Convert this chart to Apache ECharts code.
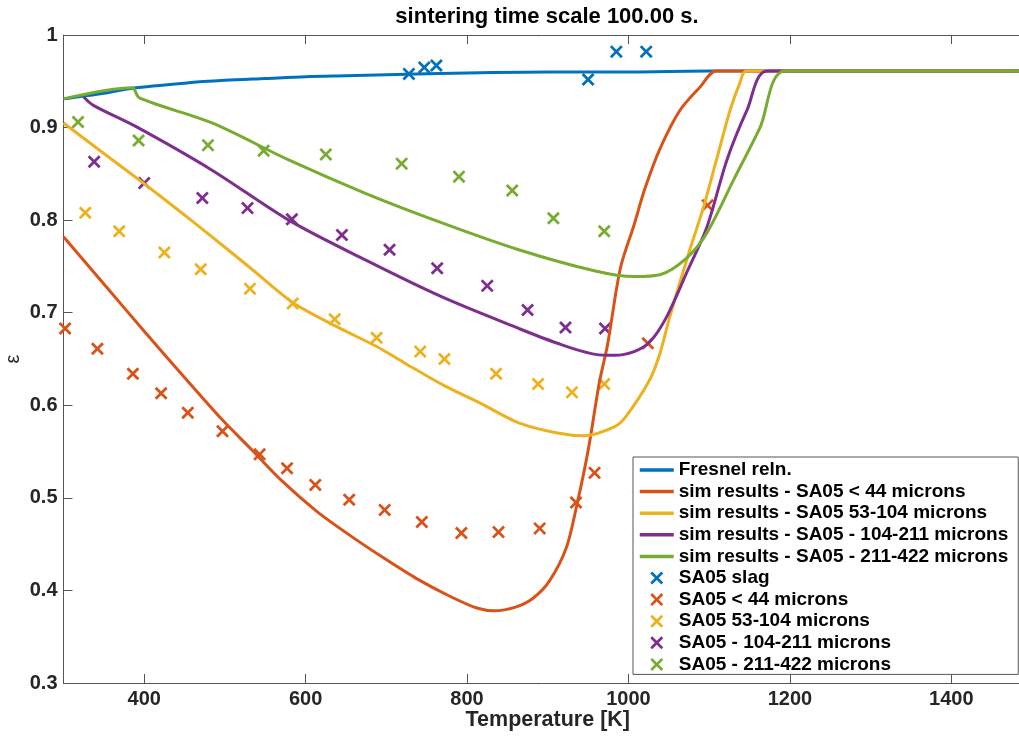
<!DOCTYPE html>
<html>
<head>
<meta charset="utf-8">
<title>sintering time scale</title>
<script src="https://cdn.jsdelivr.net/npm/echarts@6/dist/echarts.min.js"></script>
<style>
  html, body { margin: 0; padding: 0; background: #fff; }
  #main { width: 1019px; height: 738px; }
</style>
</head>
<body>
<div id="main"></div>
<script>
// temperature [K], emissivity
const fresnel = [[300,0.931],[350,0.937],[385,0.9425],[450,0.948],[500,0.951],[550,0.953],[600,0.955],[650,0.956],[700,0.957],[800,0.959],[900,0.960],[1000,0.960],[1100,0.961],[1500,0.961]];
const simLt44 = [[300,0.782],[350,0.731],[400,0.680],[450,0.630],[497,0.584],[532,0.553],[571,0.518],[613,0.486],[654,0.460],[695,0.436],[737,0.413],[778,0.394],[812,0.381],[834,0.378],[860,0.382],[881,0.391],[902,0.410],[923,0.446],[936,0.492],[950,0.551],[964,0.625],[974,0.665],[990,0.748],[1007,0.795],[1020,0.833],[1039,0.877],[1064,0.919],[1089,0.944],[1109,0.961],[1500,0.961]];
const sim53 = [[300,0.905],[350,0.872],[399,0.840],[442,0.811],[484,0.782],[532,0.748],[584,0.711],[636,0.686],[689,0.663],[722,0.646],[770,0.622],[817,0.602],[864,0.581],[912,0.570],[945,0.567],[983,0.577],[997,0.588],[1026,0.627],[1039,0.656],[1051,0.695],[1076,0.768],[1093,0.814],[1109,0.865],[1126,0.919],[1138,0.948],[1146,0.961],[1500,0.961]];
const sim104 = [[325,0.933],[337,0.924],[390,0.901],[484,0.854],[579,0.800],[674,0.757],[769,0.717],[864,0.683],[912,0.667],[959,0.655],[983,0.654],[1007,0.658],[1026,0.668],[1047,0.695],[1072,0.743],[1097,0.792],[1122,0.865],[1147,0.919],[1172,0.961],[1500,0.961]];
const sim211 = [[300,0.931],[385,0.943],[394,0.932],[484,0.905],[579,0.865],[674,0.829],[769,0.797],[864,0.768],[959,0.745],[1007,0.739],[1039,0.741],[1072,0.759],[1097,0.786],[1130,0.843],[1163,0.900],[1194,0.961],[1500,0.961]];

const expSlag = [[728,0.958],[747,0.965],[762,0.967],[950,0.952],[985,0.982],[1022,0.982]];
const expLt44 = [[302,0.683],[342,0.661],[386,0.634],[421,0.613],[454,0.592],[497,0.572],[543,0.547],[577,0.532],[612,0.514],[654,0.498],[698,0.487],[744,0.474],[793,0.462],[839,0.463],[890,0.467],[935,0.495],[958,0.527],[1024,0.667],[1098,0.816]];
const exp53 = [[327,0.808],[369,0.788],[425,0.765],[470,0.747],[531,0.726],[584,0.710],[636,0.693],[688,0.673],[742,0.658],[772,0.650],[836,0.634],[888,0.623],[930,0.614],[970,0.623]];
const exp104 = [[338,0.863],[400,0.840],[472,0.824],[528,0.813],[583,0.801],[645,0.784],[704,0.768],[763,0.748],[825,0.729],[875,0.703],[922,0.684],[971,0.683]];
const exp211 = [[318,0.906],[393,0.886],[479,0.881],[548,0.875],[625,0.871],[719,0.861],[790,0.847],[856,0.832],[907,0.802],[970,0.788]];

const xTicks = [400, 600, 800, 1000, 1200, 1400];

const lineNames = ['Fresnel reln.', 'sim results - SA05 < 44 microns', 'sim results - SA05 53-104 microns',
  'sim results - SA05 - 104-211 microns', 'sim results - SA05 - 211-422 microns'];
const dotNames = ['SA05 slag', 'SA05 < 44 microns', 'SA05 53-104 microns', 'SA05 - 104-211 microns', 'SA05 - 211-422 microns'];
const colors = ['#0072BD', '#D95319', '#EDB120', '#7E2F8E', '#77AC30'];

const FONT = '"Liberation Sans", Helvetica, Arial, sans-serif';
const CROSS = 'path://M0,1.5L1.5,0L5,3.5L8.5,0L10,1.5L6.5,5L10,8.5L8.5,10L5,6.5L1.5,10L0,8.5L3.5,5Z';
const AXIS_COLOR = '#555';

const lineSets = [fresnel, simLt44, sim53, sim104, sim211];
const dotSets = [expSlag, expLt44, exp53, exp104, exp211];

const series = [];
lineSets.forEach((d, i) => {
  series.push({
    name: lineNames[i], type: 'line', data: d,
    symbol: 'none', smooth: 0.3,
    lineStyle: { width: 3, color: colors[i] }, itemStyle: { color: colors[i] }
  });
});
dotSets.forEach((d, i) => {
  series.push({
    name: dotNames[i], type: 'scatter', data: d,
    symbol: CROSS, symbolSize: 13, itemStyle: { color: colors[i], opacity: 1 }
  });
});

// legend: plain line for the simulated curves, cross for the measurements
const legendData = lineNames.map(n => ({ name: n, itemStyle: { opacity: 0 }, lineStyle: { width: 3.5 } }))
  .concat(dotNames.map(n => ({ name: n })));

const chart = echarts.init(document.getElementById('main'));
chart.setOption({
  animation: false,
  backgroundColor: '#fff',
  color: colors,
  title: {
    text: 'sintering time scale 100.00 s.',
    left: 542, top: 1, textAlign: 'center',
    textStyle: { fontFamily: FONT, fontSize: 22, fontWeight: 'bold', color: '#000' }
  },
  grid: { left: 63.5, top: 35, right: -13, bottom: 55, outerBoundsMode: 'none', containLabel: false },
  xAxis: [{
    type: 'value', min: 300, max: 1500,
    name: 'Temperature [K]', nameLocation: 'middle', nameGap: 26, nameMoveOverlap: false,
    nameTextStyle: { fontFamily: FONT, fontSize: 21.5, fontWeight: 'bold', color: '#262626' },
    axisLine: { show: true, lineStyle: { color: AXIS_COLOR, width: 1 } },
    axisTick: { show: true, inside: true, length: 9, customValues: xTicks, lineStyle: { color: AXIS_COLOR } },
    axisLabel: { customValues: xTicks, margin: 6, fontFamily: FONT, fontSize: 20, fontWeight: 'bold', color: '#262626',
      formatter: v => String(v) },
    splitLine: { show: false }
  }, {
    type: 'value', min: 300, max: 1500, position: 'top',
    axisLine: { show: true, lineStyle: { color: AXIS_COLOR, width: 1 } },
    axisTick: { show: true, inside: true, length: 9, customValues: xTicks, lineStyle: { color: AXIS_COLOR } },
    axisLabel: { show: false }, splitLine: { show: false }
  }],
  yAxis: {
    type: 'value', min: 0.3, max: 1, interval: 0.1,
    name: 'ε', nameLocation: 'middle', nameGap: 40, nameRotate: 90, nameMoveOverlap: false,
    nameTextStyle: { fontFamily: FONT, fontSize: 20, color: '#262626' },
    axisLine: { show: true, lineStyle: { color: AXIS_COLOR, width: 1 } },
    axisTick: { show: true, inside: true, length: 9, lineStyle: { color: AXIS_COLOR } },
    axisLabel: { margin: 6, fontFamily: FONT, fontSize: 20, fontWeight: 'bold', color: '#262626',
      formatter: v => String(+v.toFixed(1)) },
    splitLine: { show: false }
  },
  legend: {
    orient: 'vertical', left: 633, top: 457,
    padding: [3, 10, 0, 5], itemGap: 1.6, itemWidth: 34, itemHeight: 13,
    backgroundColor: '#fff', borderColor: AXIS_COLOR, borderWidth: 1,
    selectedMode: false,
    textStyle: { fontFamily: FONT, fontSize: 19, fontWeight: 'bold', color: '#000', lineHeight: 20 },
    data: legendData
  },
  series: series
});
</script>
</body>
</html>
